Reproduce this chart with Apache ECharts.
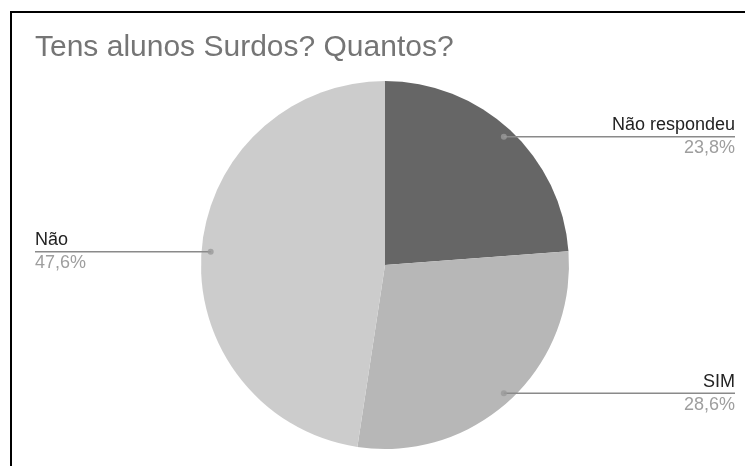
<!DOCTYPE html>
<html>
<head>
<meta charset="utf-8">
<script src="https://cdn.jsdelivr.net/npm/echarts@6/dist/echarts.min.js"></script>
<style>
  html, body { margin: 0; padding: 0; background: #fff; overflow: hidden; }
  #frame { position: absolute; left: 10px; top: 11px; width: 900px; height: 700px; border: 2px solid #000; box-sizing: border-box; }
  #chart { position: absolute; left: 0; top: 0; width: 745px; height: 466px; }
</style>
</head>
<body>
<div id="frame"></div>
<div id="chart"></div>
<script>
// Data
var titleText = 'Tens alunos Surdos? Quantos?';
var categories = ['Não respondeu', 'SIM', 'Não'];
var percents = [23.8, 28.6, 47.6];
var colors = ['#666666', '#b7b7b7', '#cccccc'];

var chart = echarts.init(document.getElementById('chart'), null, { renderer: 'canvas' });

var pieData = categories.map(function (c, i) {
  return { name: c, value: percents[i], itemStyle: { color: colors[i] } };
});

var total = percents.reduce(function (a, b) { return a + b; }, 0);
var DOT_R = 0.95;
var acc = 0;
var dotData = percents.map(function (v) {
  var mid = acc + v / 2;
  acc += v;
  return [DOT_R, mid];
});

var W = 745;
var LEFT_EDGE = 35, RIGHT_EDGE = 735;

var option = {
  backgroundColor: 'transparent',
  animation: false,
  title: {
    text: titleText,
    left: 35,
    top: 33,
    padding: 0,
    textStyle: { fontFamily: 'Liberation Sans, Arial, sans-serif', fontSize: 30, fontWeight: 'normal', color: '#757575' }
  },
  polar: { center: [385, 265], radius: 184 },
  angleAxis: { type: 'value', min: 0, max: total, startAngle: 90, clockwise: true, show: false },
  radiusAxis: { type: 'value', min: 0, max: 1, show: false },
  series: [
    {
      type: 'pie',
      center: [385, 265],
      radius: 184,
      startAngle: 90,
      clockwise: true,
      silent: true,
      label: { show: false },
      labelLine: { show: false },
      itemStyle: { borderWidth: 0 },
      data: pieData,
      z: 1
    },
    {
      type: 'pie',
      center: [385, 265],
      radius: 184 * DOT_R,
      startAngle: 90,
      clockwise: true,
      silent: true,
      itemStyle: { color: 'rgba(0,0,0,0)', borderWidth: 0 },
      label: {
        show: true,
        fontFamily: 'Liberation Sans, Arial, sans-serif',
        formatter: function (p) {
          return '{n|' + p.name + '}\n{p|' + p.value.toFixed(1).replace('.', ',') + '%}';
        },
        rich: {
          n: { fontSize: 18, color: '#222222', lineHeight: 23, fontFamily: 'Liberation Sans, Arial, sans-serif' },
          p: { fontSize: 18, color: '#9e9e9e', lineHeight: 23, fontFamily: 'Liberation Sans, Arial, sans-serif' }
        }
      },
      labelLine: { show: true, length: 5, length2: 5, lineStyle: { color: '#8a8a8a', width: 1.5 } },
      labelLayout: function (p) {
        var pt = p.labelLinePoints && p.labelLinePoints[0];
        if (!pt) return {};
        var isLeft = pt[0] < 385;
        var ex = isLeft ? LEFT_EDGE : RIGHT_EDGE;
        return {
          x: ex,
          y: pt[1],
          align: isLeft ? 'left' : 'right',
          verticalAlign: 'middle',
          labelLinePoints: [[pt[0], pt[1]], [pt[0], pt[1]], [ex, pt[1]]]
        };
      },
      data: pieData.map(function (d) { return { name: d.name, value: d.value }; }),
      z: 3
    },
    {
      type: 'scatter',
      coordinateSystem: 'polar',
      symbol: 'circle',
      symbolSize: 6,
      silent: true,
      itemStyle: { color: '#9a9a9a' },
      data: dotData,
      z: 4
    }
  ]
};
chart.setOption(option);
</script>
</body>
</html>
